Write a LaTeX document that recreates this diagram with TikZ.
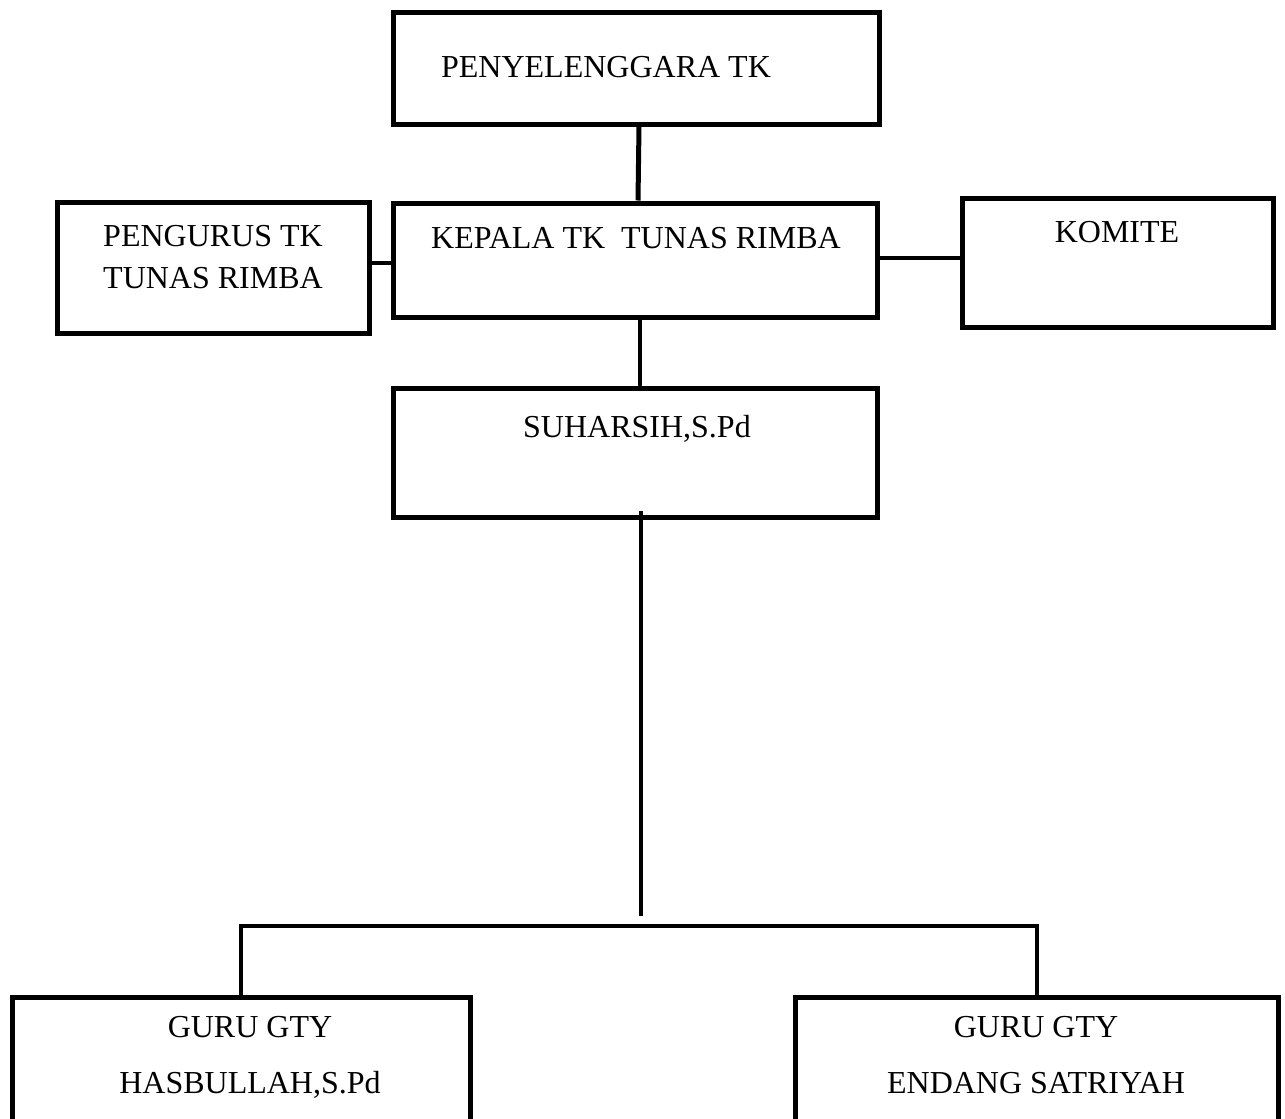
\documentclass[tikz,border=0pt]{standalone}
\usepackage{fontspec}
\setmainfont{Liberation Serif}
\tikzset{
  box/.style={draw, line width=5pt, rectangle, inner sep=0pt},
  lbl/.style={font=\fontsize{32}{42}\selectfont, inner sep=0pt, anchor=base, align=center},
  link/.style={line width=4pt}
}
\begin{document}
\begin{tikzpicture}[x=1pt, y=-1pt]
        \clip (0,0) rectangle (1285,1119);

        \node[box, minimum width=486pt, minimum height=112pt] (peny) at (636,68) {};
        \node[box, minimum width=312pt, minimum height=131pt] (pengurus) at (213,267.5) {};
        \node[box, minimum width=484pt, minimum height=114pt] (kepala) at (635,260) {};
        \node[box, minimum width=311pt, minimum height=129pt] (komite) at (1117.5,262.5) {};
        \node[box, minimum width=484pt, minimum height=129pt] (suharsih) at (635,452.5) {};
        \node[box, minimum width=458pt, minimum height=200pt] (guruA) at (241,1097) {};
        \node[box, minimum width=483pt, minimum height=200pt] (guruB) at (1036.5,1097) {};

        \node[lbl] (penyT) at (606,77) {PENYELENGGARA TK};
        \node[lbl] (pengurusT) at (213,288) {PENGURUS TK\\TUNAS RIMBA};
        \node[lbl] (kepalaT) at (636,248) {KEPALA TK~ TUNAS RIMBA};
        \node[lbl] (komiteT) at (1117,242) {KOMITE};
        \node[lbl] (suharsihT) at (637,437) {SUHARSIH,S.Pd};
        \node[lbl] (guruAT) at (250,1093) {GURU GTY\\[14pt]HASBULLAH,S.Pd};
        \node[lbl] (guruBT) at (1036,1093) {GURU GTY\\[14pt]ENDANG SATRIYAH};

        \draw[link, line width=5pt] ([xshift=3pt]peny.south) -- ([xshift=3pt]kepala.north);
        \draw[link] ([yshift=4.5pt]pengurus.east) -- ([yshift=-3pt]kepala.west);
        \draw[link] ([yshift=2pt]kepala.east) -- ([yshift=4.5pt]komite.west);
        \draw[link] ([xshift=5pt]kepala.south) -- ([xshift=5pt]suharsih.north);

        %\draw (suharsih.south) -- (guruA.north);
        \coordinate (busTop) at (641,916);
        \draw[link] ([xshift=6pt,yshift=9pt]suharsih.south) -- (busTop);
        \draw[link] (guruA.north) -- ++(0,-69) -| (guruB.north);
\end{tikzpicture}
\end{document}
